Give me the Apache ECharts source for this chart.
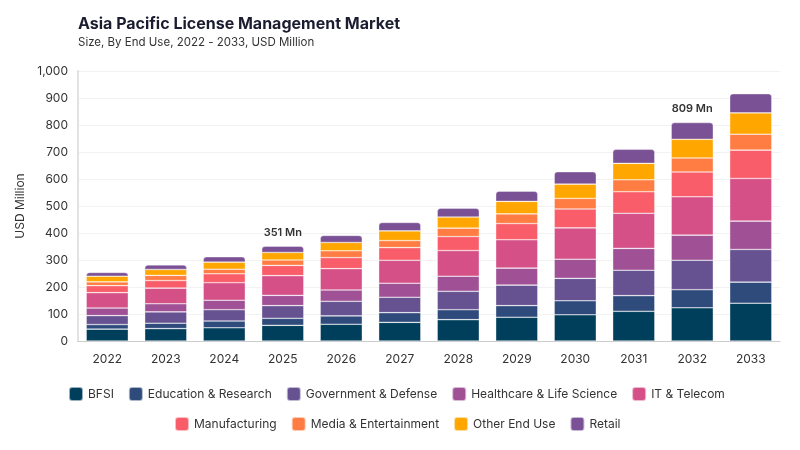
<!DOCTYPE html>
<html>
<head>
<meta charset="utf-8">
<script src="https://cdn.jsdelivr.net/npm/echarts@6/dist/echarts.min.js"></script>
<style>
html,body{margin:0;padding:0;background:#fff;}
#c{width:800px;height:450px;}
</style>
</head>
<body>
<div id="c"></div>
<script>
const years = ['2022','2023','2024','2025','2026','2027','2028','2029','2030','2031','2032','2033'];
const seriesNames = ['BFSI','Education & Research','Government & Defense','Healthcare & Life Science','IT & Telecom','Manufacturing','Media & Entertainment','Other End Use','Retail'];
const bfsi       = [44, 46, 49, 58, 62, 69, 79, 88, 97, 110, 123, 140];
const education  = [17, 20, 25, 26, 31, 36, 37, 43, 52, 58, 67, 78];
const government = [33, 42, 42, 47, 54, 57, 68, 76, 83, 94, 109, 121];
const healthcare = [28, 30, 35, 38, 42, 52, 56, 63, 71, 81, 93, 105];
const itTelecom  = [57, 58, 65, 73, 79, 85, 95, 105, 116, 130, 142, 158];
const manufacturing = [26, 28, 33, 38, 41, 47, 52, 60, 70, 80, 92, 105];
const media      = [14, 19, 17, 20, 25, 26, 31, 36, 39, 44, 52, 59];
const otherUse   = [21, 22, 26, 28, 31, 36, 41, 46, 53, 61, 69, 79];
const retail     = [14, 17, 20, 23, 26, 31, 33, 38, 46, 52, 62, 71];
const colors = ['#003f5c','#2f4b7c','#665191','#a05195','#d45087','#f95d6a','#ff7c43','#ffa600','#7a5195'];
const totalLabels = {3: '351 Mn', 10: '809 Mn'};
const yTicks = [0, 100, 200, 300, 400, 500, 600, 700, 800, 900, 1000];

const values = [bfsi, education, government, healthcare, itTelecom, manufacturing, media, otherUse, retail];
const FONT = 'Inter, "Noto Sans", sans-serif';

const series = values.map((arr, i) => {
  const isTop = i === values.length - 1;
  return {
    name: seriesNames[i],
    type: 'bar',
    stack: 'total',
    barWidth: '72%',
    itemStyle: {
      color: colors[i],
      borderColor: 'rgba(255,255,255,0.6)',
      borderWidth: 0.6,
      borderRadius: isTop ? [3,3,0,0] : 0
    },
    emphasis: {disabled: true},
    data: arr.map((v, j) => {
      if (isTop && totalLabels[j]) {
        return {
          value: v,
          label: {
            show: true, position: 'top', distance: 8,
            formatter: totalLabels[j],
            color: '#333', fontSize: 11, fontWeight: 600, fontFamily: FONT
          }
        };
      }
      return v;
    })
  };
});

const legendBase = {
  itemWidth: 14, itemHeight: 14, itemGap: 14,
  icon: 'path://M3,0 L11,0 Q14,0 14,3 L14,11 Q14,14 11,14 L3,14 Q0,14 0,11 L0,3 Q0,0 3,0 Z',
  textStyle: {fontFamily: FONT, fontSize: 12, color: '#333'}
};

const chart = echarts.init(document.getElementById('c'));
chart.setOption({
  animation: false,
  backgroundColor: '#fff',
  title: {
    text: 'Asia Pacific License Management Market',
    subtext: 'Size, By End Use, 2022 - 2033, USD Million',
    left: 73, top: 11,
    itemGap: 5,
    textStyle: {fontFamily: FONT, fontSize: 16, fontWeight: 700, color: '#1c1c30'},
    subtextStyle: {fontFamily: FONT, fontSize: 11.5, color: '#333'}
  },
  grid: {left: 78, right: 20, top: 71, bottom: 109},
  legend: [
    Object.assign({}, legendBase, {left: 63, top: 381, data: seriesNames.slice(0, 5)}),
    Object.assign({}, legendBase, {left: 169, top: 411, data: seriesNames.slice(5)})
  ],
  xAxis: {
    type: 'category',
    data: years,
    axisLine: {lineStyle: {color: '#ccc'}},
    axisTick: {show: false},
    axisLabel: {fontFamily: FONT, fontSize: 12, color: '#333', margin: 12}
  },
  yAxis: {
    type: 'value',
    min: yTicks[0], max: yTicks[yTicks.length - 1], interval: 100,
    name: 'USD Million',
    nameLocation: 'middle',
    nameGap: 48,
    nameTextStyle: {fontFamily: FONT, fontSize: 12, color: '#333'},
    axisLine: {show: true, lineStyle: {color: '#e2e2e2', width: 2}},
    axisTick: {show: false},
    splitLine: {lineStyle: {color: '#f2f2f2'}},
    axisLabel: {
      fontFamily: FONT, fontSize: 12, color: '#333', margin: 10,
      formatter: v => v.toLocaleString('en-US')
    }
  },
  series: series
});
</script>
</body>
</html>
